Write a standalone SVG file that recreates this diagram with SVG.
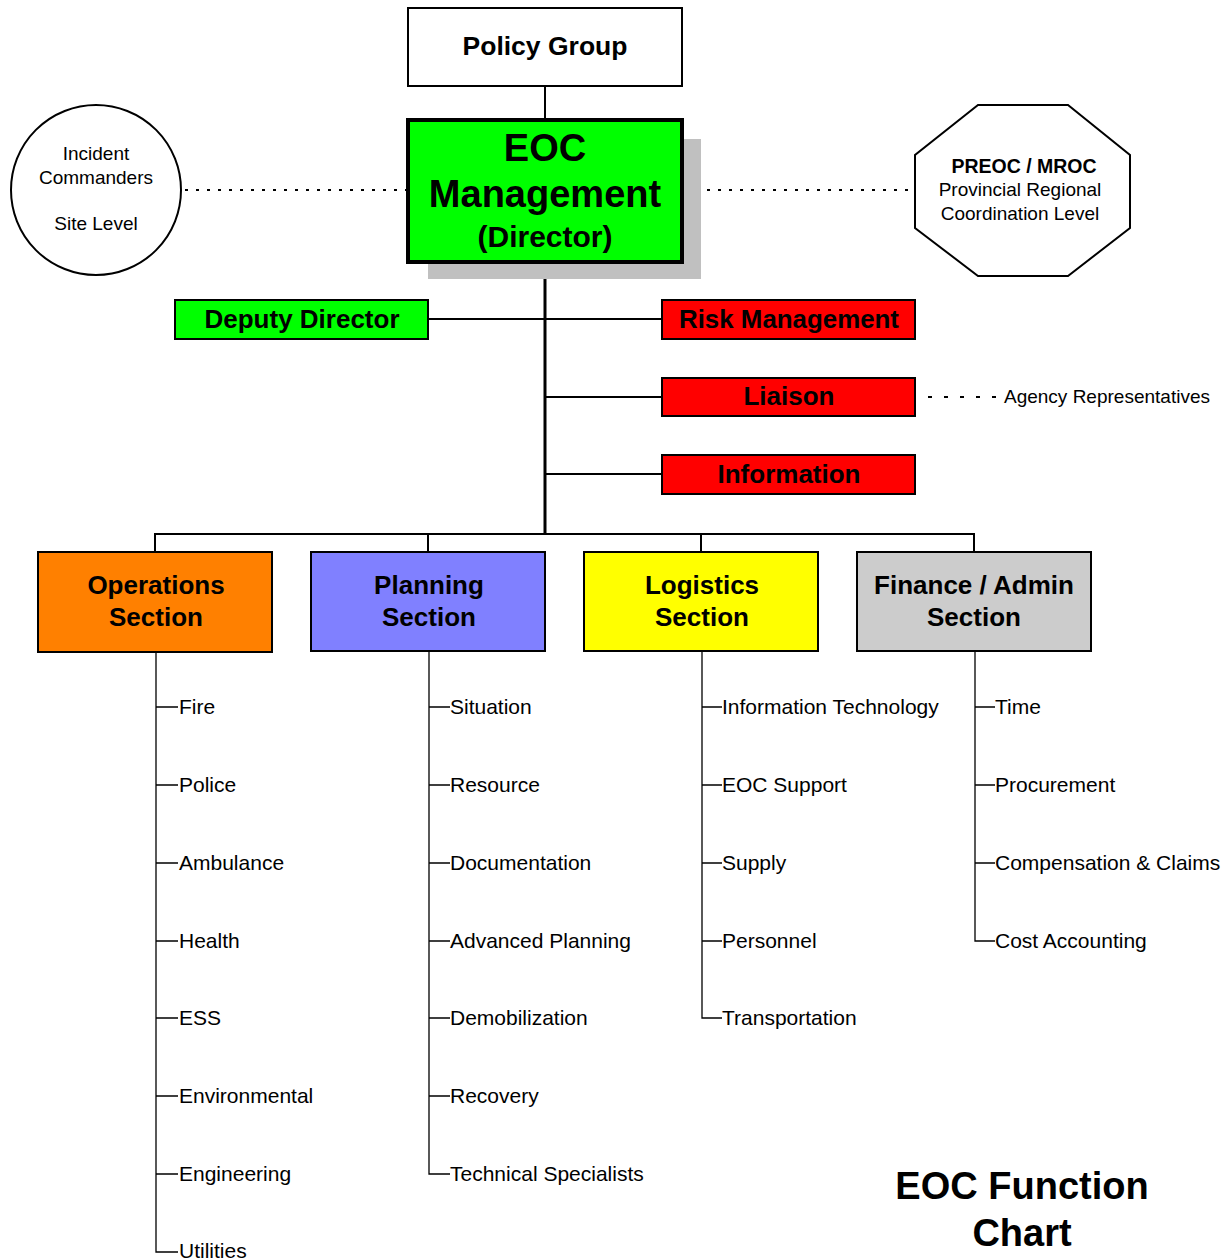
<svg xmlns="http://www.w3.org/2000/svg" width="1230" height="1260" viewBox="0 0 1230 1260">
<style>
text{font-family:"Liberation Sans",Arial,sans-serif;fill:#000}
.b{font-weight:bold}
.box{stroke:#000;stroke-width:2}
.ln{stroke:#000;stroke-width:2;fill:none}
.thin{stroke:#000;stroke-width:1.3;fill:none}
.dot{stroke:#000;stroke-width:2;stroke-dasharray:3 8;fill:none}
.lbl{font-size:26px;font-weight:bold;text-anchor:middle}
.sec{font-size:26px;font-weight:bold;text-anchor:middle}
.it{font-size:21px}
.sm{font-size:19px;text-anchor:middle}
</style>
<rect width="1230" height="1260" fill="#fff"/>
<g id="connectors">
  <line class="ln" x1="545" y1="86" x2="545" y2="120"/>
  <line x1="545" y1="262" x2="545" y2="534" stroke="#000" stroke-width="3"/>
  <line class="ln" x1="428" y1="319" x2="662" y2="319"/>
  <line class="ln" x1="545" y1="397" x2="662" y2="397"/>
  <line class="ln" x1="545" y1="474" x2="662" y2="474"/>
  <line class="dot" x1="185" y1="190" x2="408" y2="190"/>
  <line class="dot" x1="685" y1="190" x2="914" y2="190"/>
  <line x1="928" y1="397" x2="998" y2="397" stroke="#000" stroke-width="2" stroke-dasharray="4 12"/>
  <polyline class="ln" points="155,552 155,534 974,534 974,552"/>
  <line class="ln" x1="428" y1="534" x2="428" y2="552"/>
  <line class="ln" x1="701" y1="534" x2="701" y2="552"/>
  <polyline class="thin" points="156,652 156,1252 178,1252"/>
  <polyline class="thin" points="429,651 429,1174 450,1174"/>
  <polyline class="thin" points="702,651 702,1018 722,1018"/>
  <polyline class="thin" points="975,651 975,941 995,941"/>
  <path class="thin" d="M156 707h22M156 785h22M156 863h22M156 941h22M156 1018h22M156 1096h22M156 1174h22"/>
  <path class="thin" d="M429 707h21M429 785h21M429 863h21M429 941h21M429 1018h21M429 1096h21"/>
  <path class="thin" d="M702 707h20M702 785h20M702 863h20M702 941h20"/>
  <path class="thin" d="M975 707h20M975 785h20M975 863h20"/>
</g>
<g id="policy">
  <rect class="box" x="408" y="8" width="274" height="78" fill="#fff" stroke-width="1.5"/>
  <text class="lbl" x="545" y="55" style="font-size:26.5px">Policy Group</text>
</g>
<g id="eoc">
  <rect x="428" y="139" width="273" height="140" fill="#c0c0c0"/>
  <rect x="408" y="120" width="274" height="142" fill="#00ff00" stroke="#000" stroke-width="4"/>
  <text class="b" x="545" y="161" font-size="38" text-anchor="middle">EOC</text>
  <text class="b" x="545" y="207" font-size="38" text-anchor="middle">Management</text>
  <text class="b" x="545" y="247" font-size="30" text-anchor="middle">(Director)</text>
</g>
<g id="incident">
  <circle cx="96" cy="190" r="85" fill="#fff" stroke="#000" stroke-width="2"/>
  <text class="sm" x="96" y="160">Incident</text>
  <text class="sm" x="96" y="184">Commanders</text>
  <text class="sm" x="96" y="230">Site Level</text>
</g>
<g id="preoc">
  <polygon points="978,105 1068,105 1130,155 1130,228 1068,276 978,276 915,228 915,155" fill="#fff" stroke="#000" stroke-width="2"/>
  <text class="b" x="1024" y="173" font-size="19.5" text-anchor="middle">PREOC / MROC</text>
  <text class="sm" x="1020" y="196">Provincial Regional</text>
  <text class="sm" x="1020" y="220">Coordination Level</text>
</g>
<g id="deputy">
  <rect class="box" x="175" y="300" width="253" height="39" fill="#00ff00"/>
  <text class="lbl" x="302" y="328">Deputy Director</text>
</g>
<g id="risk">
  <rect class="box" x="662" y="300" width="253" height="39" fill="#ff0000"/>
  <text class="lbl" x="789" y="328" textLength="220" lengthAdjust="spacingAndGlyphs">Risk Management</text>
</g>
<g id="liaison">
  <rect class="box" x="662" y="378" width="253" height="38" fill="#ff0000"/>
  <text class="lbl" x="789" y="405">Liaison</text>
</g>
<g id="agency">
  <text x="1004" y="403" font-size="19">Agency Representatives</text>
</g>
<g id="information">
  <rect class="box" x="662" y="455" width="253" height="39" fill="#ff0000"/>
  <text class="lbl" x="789" y="483">Information</text>
</g>
<g id="operations">
  <rect class="box" x="38" y="552" width="234" height="100" fill="#ff8000"/>
  <text class="sec" x="156" y="594">Operations</text>
  <text class="sec" x="156" y="626">Section</text>
</g>
<g id="planning">
  <rect class="box" x="311" y="552" width="234" height="99" fill="#8080ff"/>
  <text class="sec" x="429" y="594">Planning</text>
  <text class="sec" x="429" y="626">Section</text>
</g>
<g id="logistics">
  <rect class="box" x="584" y="552" width="234" height="99" fill="#ffff00"/>
  <text class="sec" x="702" y="594">Logistics</text>
  <text class="sec" x="702" y="626">Section</text>
</g>
<g id="finance">
  <rect class="box" x="857" y="552" width="234" height="99" fill="#cccccc"/>
  <text class="sec" x="974" y="594">Finance / Admin</text>
  <text class="sec" x="974" y="626">Section</text>
</g>
<g id="ops-items">
  <text class="it" x="179" y="714">Fire</text>
  <text class="it" x="179" y="792">Police</text>
  <text class="it" x="179" y="870">Ambulance</text>
  <text class="it" x="179" y="948">Health</text>
  <text class="it" x="179" y="1025">ESS</text>
  <text class="it" x="179" y="1103">Environmental</text>
  <text class="it" x="179" y="1181">Engineering</text>
  <text class="it" x="179" y="1258">Utilities</text>
</g>
<g id="plan-items">
  <text class="it" x="450" y="714">Situation</text>
  <text class="it" x="450" y="792">Resource</text>
  <text class="it" x="450" y="870">Documentation</text>
  <text class="it" x="450" y="948">Advanced Planning</text>
  <text class="it" x="450" y="1025">Demobilization</text>
  <text class="it" x="450" y="1103">Recovery</text>
  <text class="it" x="450" y="1181">Technical Specialists</text>
</g>
<g id="log-items">
  <text class="it" x="722" y="714">Information Technology</text>
  <text class="it" x="722" y="792">EOC Support</text>
  <text class="it" x="722" y="870">Supply</text>
  <text class="it" x="722" y="948">Personnel</text>
  <text class="it" x="722" y="1025">Transportation</text>
</g>
<g id="fin-items">
  <text class="it" x="995" y="714">Time</text>
  <text class="it" x="995" y="792">Procurement</text>
  <text class="it" x="995" y="870">Compensation &amp; Claims</text>
  <text class="it" x="995" y="948">Cost Accounting</text>
</g>
<g id="title">
  <text class="b" x="1022" y="1199" font-size="38" text-anchor="middle">EOC Function</text>
  <text class="b" x="1022" y="1246" font-size="38" text-anchor="middle">Chart</text>
</g>
</svg>
